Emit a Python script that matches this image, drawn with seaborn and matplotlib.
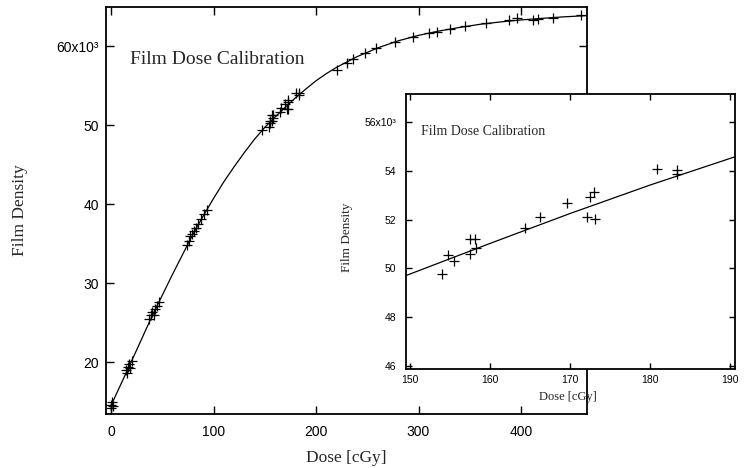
import numpy as np
import pandas as pd
import matplotlib
matplotlib.use("Agg")
import matplotlib.pyplot as plt
import seaborn as sns

# ---- data (density in units of 10^3) ----
dose_low = [0, 0, 1, 2, 15, 16, 17, 18, 19, 20, 37, 39, 40, 42, 43, 45, 47,
            74, 76, 77, 79, 81, 83, 85, 88, 91, 94, 147]
dens_low = [14.2, 14.6, 14.9, 14.4, 19.0, 18.6, 19.4, 19.8, 19.2, 20.1, 25.4, 25.9, 26.3, 26.0, 26.7, 27.1, 27.6,
            34.8, 35.3, 35.9, 36.2, 36.6, 37.0, 37.5, 38.1, 38.7, 39.3, 49.4]

dose_mid = [154.0, 154.7, 155.5, 157.5, 158.1, 157.5, 158.25, 164.4, 166.25, 169.6,
            172.1, 172.5, 173.0, 173.1, 180.8, 183.3, 183.3]
dens_mid = [49.77, 50.53, 50.28, 51.22, 51.22, 50.57, 50.85, 51.66, 52.11, 52.69,
            52.09, 52.94, 53.15, 52.02, 54.08, 54.04, 53.86]

dose_high = [220, 230, 236, 248, 259, 277, 295, 310, 318, 331, 345, 366, 388, 396, 412, 417, 431, 459]
dens_high = [57.0, 57.8, 58.4, 59.1, 59.7, 60.5, 61.2, 61.6, 61.8, 62.2, 62.5, 62.9, 63.3, 63.5, 63.3, 63.4, 63.6, 63.9]

# fitted calibration curve
fit_dose = [0, 20, 40, 60, 80, 90, 100, 110, 120, 130, 140, 150, 160, 170, 180, 190,
            200, 210, 220, 240, 260, 280, 300, 320, 340, 360, 380, 400, 420, 440, 464]
fit_dens = [14.5, 20.1, 25.8, 31.1, 36.2, 38.5, 40.7, 42.8, 44.7, 46.5, 48.2, 49.7, 51.0, 52.25, 53.45, 54.55,
            55.6, 56.5, 57.3, 58.65, 59.75, 60.65, 61.35, 61.9, 62.35, 62.75, 63.05, 63.3, 63.5, 63.68, 63.85]

# inset fit line
inset_fit_dose = [149.5, 160, 170, 180, 190.6]
inset_fit_dens = [49.70, 51.02, 52.25, 53.42, 54.58]

main_xticks = [0, 100, 200, 300, 400]
main_yticks = [20, 30, 40, 50, 60]
main_ytick_labels = ["20", "30", "40", "50", "60x10³"]
inset_xticks = [150, 160, 170, 180, 190]
inset_yticks = [46, 48, 50, 52, 54, 56]
inset_ytick_labels = ["46", "48", "50", "52", "54", "56x10³"]

title_text = "Film Dose Calibration"
xlabel_text = "Dose [cGy]"
ylabel_text = "Film Density"

# ---- style ----
sns.set_style("ticks")
plt.rcParams["font.family"] = ["Liberation Sans", "DejaVu Sans"]
SERIF = ["Liberation Serif", "DejaVu Serif"]

W, H = 747, 468
fig = plt.figure(figsize=(W / 100, H / 100), dpi=100)
fig.patch.set_facecolor("white")

def fbox(l, t, r, b):
    return [l / W, 1 - b / H, (r - l) / W, (b - t) / H]

# ---- main axes ----
ax = fig.add_axes(fbox(106, 7, 587, 414))
pts = pd.DataFrame({"dose": dose_low + dose_mid + dose_high,
                    "dens": dens_low + dens_mid + dens_high})
fit = pd.DataFrame({"dose": fit_dose, "dens": fit_dens})
sns.lineplot(data=fit, x="dose", y="dens", color="black", linewidth=0.9, ax=ax)
sns.scatterplot(data=pts, x="dose", y="dens", marker="+", color="black", s=60,
                linewidth=0.9, ax=ax, zorder=3)
ax.set_xlim(-4.9, 464.4)
ax.set_ylim(13.42, 64.94)
ax.set_xticks(main_xticks)
ax.set_yticks(main_yticks)
ax.set_yticklabels(main_ytick_labels)
ax.tick_params(direction="in", top=True, right=True, length=6, width=1.0,
               labelsize=10, colors="black")
ax.tick_params(axis="x", pad=8)
ax.tick_params(axis="y", pad=5)
for s in ax.spines.values():
    s.set_linewidth(1.3)
    s.set_color("black")
ax.set_xlabel(xlabel_text, family=SERIF, fontsize=12.5)
ax.set_ylabel(ylabel_text, family=SERIF, fontsize=12.5)
ax.xaxis.set_label_coords(0.499, -0.108)
ax.yaxis.set_label_coords(-0.178, 0.5)
ax.xaxis.label.set_va("center")
ax.yaxis.label.set_va("center")
ax.text(0.05, 0.870, title_text, transform=ax.transAxes, family=SERIF,
        fontsize=14, va="center", ha="left")

# ---- inset axes ----
ai = fig.add_axes(fbox(406, 94, 735, 369))
ai.set_facecolor("white")
ins_pts = pd.DataFrame({"dose": dose_mid, "dens": dens_mid})
ins_fit = pd.DataFrame({"dose": inset_fit_dose, "dens": inset_fit_dens})
sns.lineplot(data=ins_fit, x="dose", y="dens", color="black", linewidth=0.9, ax=ai)
sns.scatterplot(data=ins_pts, x="dose", y="dens", marker="+", color="black", s=45,
                linewidth=0.9, ax=ai, zorder=3)
ai.set_xlim(149.5, 190.6)
ai.set_ylim(45.86, 57.16)
ai.set_xticks(inset_xticks)
ai.set_yticks(inset_yticks)
ai.set_yticklabels(inset_ytick_labels)
ai.tick_params(direction="in", top=True, right=True, length=4, width=1.0,
               labelsize=7.5, colors="black")
ai.tick_params(axis="x", pad=4)
ai.tick_params(axis="y", pad=7)
for s in ai.spines.values():
    s.set_linewidth(1.3)
    s.set_color("black")
ai.set_xlabel(xlabel_text, family=SERIF, fontsize=9)
ai.set_ylabel(ylabel_text, family=SERIF, fontsize=9.5)
ai.xaxis.set_label_coords(0.492, -0.102)
ai.yaxis.set_label_coords(-0.179, 0.48)
ai.xaxis.label.set_va("center")
ai.yaxis.label.set_va("center")
ai.text(0.046, 0.862, title_text, transform=ai.transAxes, family=SERIF,
        fontsize=10, va="center", ha="left")

fig.savefig("out.png", dpi=100, facecolor="white")
